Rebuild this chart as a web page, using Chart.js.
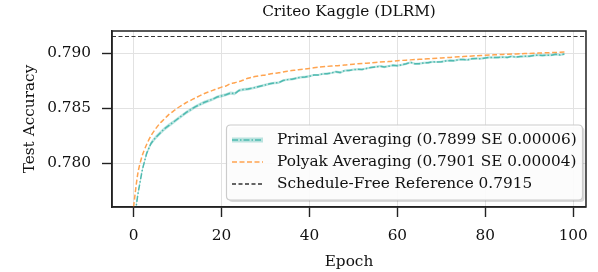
<!DOCTYPE html>
<html>
<head>
<meta charset="utf-8">
<script src="https://cdn.jsdelivr.net/npm/chart.js@4/dist/chart.umd.min.js"></script>
<style>
html,body{margin:0;padding:0;background:#fff;}
#wrap{position:relative;width:598px;height:272px;}
</style>
</head>
<body>
<div id="wrap"><canvas id="c" width="598" height="272"></canvas></div>
<script>
// ---- data ----
const title = "Criteo Kaggle (DLRM)";
const xLabel = "Epoch";
const yLabel = "Test Accuracy";
const xTicks = [0, 20, 40, 60, 80, 100];
const yTicks = [0.780, 0.785, 0.790];

const primalEpochs = [0,1,2,3,4,5,6,7,8,9,10,11,12,13,14,15,16,17,18,19,20,21,22,23,24,25,26,27,28,29,30,31,32,33,34,35,36,37,38,39,40,41,42,43,44,45,46,47,48,49,50,51,52,53,54,55,56,57,58,59,60,61,62,63,64,65,66,67,68,69,70,71,72,73,74,75,76,77,78,79,80,81,82,83,84,85,86,87,88,89,90,91,92,93,94,95,96,97,98];
const primalMean = [0.7744,0.7772,0.7794,0.7809,0.7818,0.7823,0.7827,0.78310,0.78340,0.7837,0.7840,0.78430,0.7846,0.78485,0.7851,0.7853,0.7855,0.78565,0.7858,0.7860,0.78610,0.7862,0.78635,0.78630,0.7866,0.78668,0.78672,0.7868,0.7869,0.78700,0.7871,0.7872,0.78728,0.78730,0.7875,0.78758,0.78762,0.7877,0.78780,0.78782,0.78788,0.7880,0.78800,0.7881,0.78812,0.78818,0.7883,0.78822,0.7884,0.78842,0.78848,0.78852,0.78850,0.7886,0.78868,0.78873,0.7888,0.78872,0.7888,0.78888,0.78885,0.78892,0.78902,0.78915,0.78902,0.78903,0.78910,0.78912,0.7892,0.78918,0.7892,0.78928,0.78932,0.78930,0.7894,0.7894,0.78938,0.78948,0.7895,0.78948,0.78955,0.7896,0.78958,0.78960,0.78962,0.7896,0.7897,0.78962,0.78968,0.7897,0.7897,0.78978,0.7898,0.78978,0.7898,0.7898,0.78988,0.78982,0.7899];
const primalSpread = [0.00020,0.00020,0.00020,0.00020,0.00019,0.00019,0.00018,0.00018,0.00018,0.00017,0.00017,0.00016,0.00016,0.00016,0.00015,0.00015,0.00015,0.00014,0.00014,0.00014,0.00014,0.00013,0.00014,0.00015,0.00013,0.00013,0.00012,0.00012,0.00012,0.00012,0.00012,0.00012,0.00011,0.00011,0.00012,0.00011,0.00011,0.00011,0.00011,0.00011,0.00011,0.00010,0.00010,0.00010,0.00010,0.00010,0.00011,0.00012,0.00010,0.00010,0.00010,0.00010,0.00010,0.00010,0.00010,0.00010,0.00010,0.00011,0.00010,0.00010,0.00010,0.00010,0.00010,0.00011,0.00010,0.00010,0.00010,0.00010,0.00010,0.00010,0.00010,0.00010,0.00010,0.00010,0.00010,0.00010,0.00010,0.00010,0.00010,0.00010,0.00010,0.00010,0.00010,0.00010,0.00010,0.00010,0.00010,0.00010,0.00010,0.00010,0.00010,0.00010,0.00010,0.00010,0.00010,0.00010,0.00010,0.00010,0.00010];

const polyakEpochs = [0,1,2,3,4,5,6,7,8,9,10,11,12,13,14,15,16,17,18,19,20,21,22,23,24,25,26,27,28,29,30,31,32,33,34,35,36,37,38,39,40,42,44,46,48,50,52,54,56,58,60,62,64,66,68,70,72,74,76,78,80,82,84,86,88,90,92,94,96,98];
const polyakMean = [0.7760,0.7791,0.7807,0.7817,0.7825,0.7831,0.7836,0.7840,0.7844,0.7847,0.7850,0.78525,0.7855,0.7857,0.7859,0.7861,0.7863,0.78645,0.7866,0.78675,0.7869,0.7870,0.7872,0.7873,0.7874,0.78755,0.7877,0.7878,0.78788,0.78795,0.7880,0.7881,0.78815,0.7882,0.78828,0.78835,0.7884,0.78845,0.7885,0.78855,0.7886,0.7887,0.78878,0.78885,0.7889,0.78898,0.78905,0.7891,0.78918,0.78922,0.7893,0.78935,0.7894,0.78945,0.7895,0.78955,0.7896,0.78965,0.7897,0.78975,0.7898,0.78983,0.78987,0.7899,0.78993,0.78996,0.78999,0.79002,0.79005,0.79008];

const referenceValue = 0.7915;
const legendLabels = [
  "Primal Averaging (0.7899 SE 0.00006)",
  "Polyak Averaging (0.7901 SE 0.00004)",
  "Schedule-Free Reference 0.7915"
];
const xRange = [-4.9, 102.9];
const yRange = [0.776, 0.792];

// ---- styles ----
const FONT = '"DejaVu Serif", serif';
const FS = 15.3;
const TEAL = '#4fbab0';
const TEAL_BAND = 'rgba(79,186,176,0.38)';
const ORANGE = '#ffa450';
const REF = '#333333';
const TEAL_DASH = [6, 2, 1.5, 2];
const ORANGE_DASH = [5, 2.5];
const REF_DASH = [4, 2.5];

const pts = (xs, ys) => xs.map((x, i) => ({x: x, y: ys[i]}));
const lowBand = primalEpochs.map((x, i) => ({x: x, y: primalMean[i] - primalSpread[i]}));
const highBand = primalEpochs.map((x, i) => ({x: x, y: primalMean[i] + primalSpread[i]}));

const decor = {
  id: 'decor',
  afterDraw(chart) {
    const ctx = chart.ctx, a = chart.chartArea;
    ctx.save();
    ctx.strokeStyle = '#222';
    ctx.lineWidth = 1.5;
    ctx.setLineDash([]);
    ctx.strokeRect(a.left, a.top, a.right - a.left, a.bottom - a.top);
    ctx.fillStyle = '#111';
    ctx.font = FS + 'px ' + FONT;
    ctx.textAlign = 'center';
    ctx.textBaseline = 'middle';
    ctx.fillText(title, (a.left + a.right) / 2, 12);
    ctx.fillText(xLabel, (a.left + a.right) / 2, 262);
    ctx.save();
    ctx.translate(30, (a.top + a.bottom) / 2);
    ctx.rotate(-Math.PI / 2);
    ctx.fillText(yLabel, 0, 0);
    ctx.restore();
    // legend
    const bx = 226.5, by = 125, bw = 356, bh = 75;
    const r = 4;
    function rr(x, y, w, h) {
      ctx.beginPath();
      ctx.moveTo(x + r, y);
      ctx.lineTo(x + w - r, y); ctx.quadraticCurveTo(x + w, y, x + w, y + r);
      ctx.lineTo(x + w, y + h - r); ctx.quadraticCurveTo(x + w, y + h, x + w - r, y + h);
      ctx.lineTo(x + r, y + h); ctx.quadraticCurveTo(x, y + h, x, y + h - r);
      ctx.lineTo(x, y + r); ctx.quadraticCurveTo(x, y, x + r, y);
      ctx.closePath();
    }
    rr(bx + 2, by + 2, bw, bh);
    ctx.fillStyle = 'rgba(0,0,0,0.15)';
    ctx.fill();
    rr(bx, by, bw, bh);
    ctx.fillStyle = 'rgba(255,255,255,0.92)';
    ctx.fill();
    ctx.strokeStyle = '#cccccc';
    ctx.lineWidth = 1.2;
    ctx.stroke();
    const rows = [140, 162, 184];
    const styles = [[TEAL, TEAL_DASH], [ORANGE, ORANGE_DASH], [REF, REF_DASH]];
    rows.forEach((y, i) => {
      if (i === 0) {
        ctx.strokeStyle = TEAL_BAND; ctx.lineWidth = 5; ctx.setLineDash([]);
        ctx.beginPath(); ctx.moveTo(232, y); ctx.lineTo(263, y); ctx.stroke();
      }
      ctx.strokeStyle = styles[i][0];
      ctx.lineWidth = 1.4;
      ctx.setLineDash(styles[i][1]);
      ctx.beginPath(); ctx.moveTo(232, y); ctx.lineTo(263, y); ctx.stroke();
      ctx.setLineDash([]);
      ctx.fillStyle = '#111';
      ctx.textAlign = 'left';
      ctx.fillText(legendLabels[i], 277, y);
    });
    ctx.restore();
  }
};

new Chart(document.getElementById('c'), {
  type: 'line',
  data: {
    datasets: [
      {data: lowBand, borderWidth: 0, pointRadius: 0, fill: false, borderColor: 'rgba(0,0,0,0)', clip: 0},
      {data: highBand, borderWidth: 0, pointRadius: 0, fill: '-1', backgroundColor: TEAL_BAND, borderColor: 'rgba(0,0,0,0)', clip: 0},
      {data: pts(primalEpochs, primalMean), borderColor: TEAL, borderWidth: 1.5, borderDash: TEAL_DASH, pointRadius: 0, fill: false, clip: 0, tension: 0},
      {data: pts(polyakEpochs, polyakMean), borderColor: ORANGE, borderWidth: 1.5, borderDash: ORANGE_DASH, pointRadius: 0, fill: false, clip: 0, tension: 0.3},
      {data: [{x: xRange[0], y: referenceValue}, {x: xRange[1], y: referenceValue}], borderColor: REF, borderWidth: 1.2, borderDash: REF_DASH, pointRadius: 0, fill: false, clip: 0}
    ]
  },
  options: {
    responsive: false,
    animation: false,
    events: [],
    layout: {padding: {top: 31, right: 6, left: 0, bottom: 0}},
    plugins: {legend: {display: false}, tooltip: {enabled: false}, title: {display: false}},
    scales: {
      x: {
        type: 'linear', min: xRange[0], max: xRange[1],
        afterBuildTicks: s => { s.ticks = xTicks.map(v => ({value: v})); },
        afterFit: s => { s.height = 65; },
        grid: {color: '#e2e2e2', lineWidth: 1, tickColor: '#222', tickLength: 10, tickWidth: 1.4},
        border: {display: true, color: '#222', width: 1.5},
        ticks: {color: '#111', font: {family: FONT, size: FS}, padding: 10, maxRotation: 0, callback: v => String(v)}
      },
      y: {
        type: 'linear', min: yRange[0], max: yRange[1],
        afterBuildTicks: s => { s.ticks = yTicks.map(v => ({value: v})); },
        afterFit: s => { s.width = 112; },
        grid: {color: '#e2e2e2', lineWidth: 1, tickColor: '#222', tickLength: 10, tickWidth: 1.4},
        border: {display: true, color: '#222', width: 1.5},
        ticks: {color: '#111', font: {family: FONT, size: FS}, padding: 11, callback: v => v.toFixed(3)}
      }
    }
  },
  plugins: [decor]
});
</script>
</body>
</html>
